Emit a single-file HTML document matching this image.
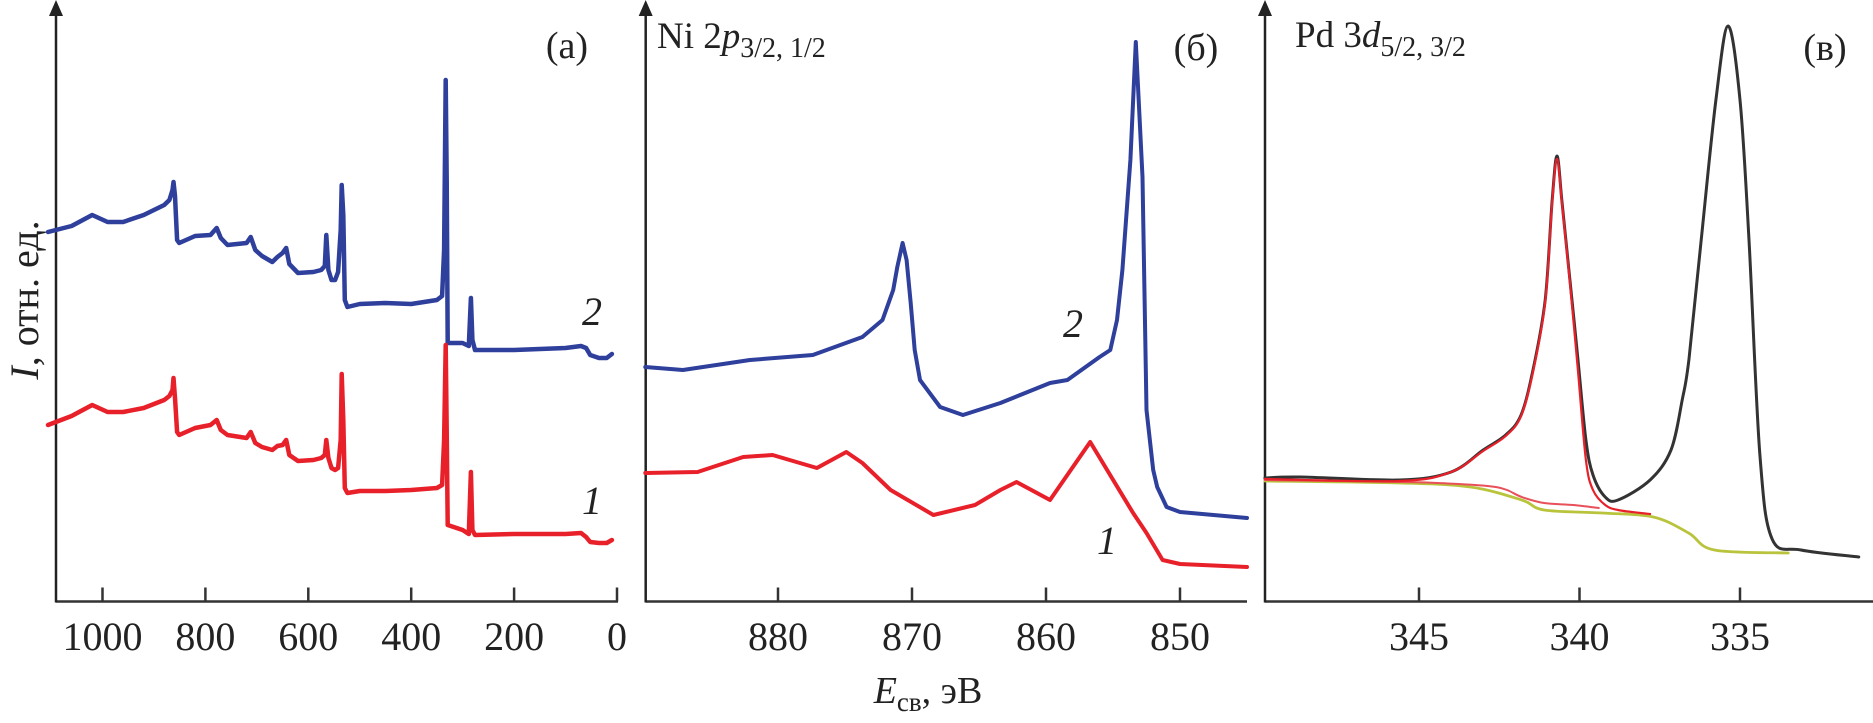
<!DOCTYPE html>
<html><head><meta charset="utf-8">
<style>
html,body{margin:0;padding:0;background:#fff;}
svg{display:block;font-family:"Liberation Serif",serif;}
</style></head>
<body>
<svg id="chart" width="1873" height="723" viewBox="0 0 1873 723" xmlns="http://www.w3.org/2000/svg">
<g id="axes"></g>
<g id="series"></g>
<g id="labels">
  <text transform="translate(38,300) rotate(-90)" text-anchor="middle" font-size="40" fill="#222"><tspan font-style="italic">I</tspan>, отн. ед.</text>
  <text x="928" y="703" text-anchor="middle" font-size="38" fill="#222"><tspan font-style="italic">E</tspan><tspan font-size="27" dy="8">св</tspan><tspan dy="-8">, эВ</tspan></text>
  <text x="567" y="58" text-anchor="middle" font-size="38" fill="#222">(a)</text>
  <text x="1196" y="60" text-anchor="middle" font-size="38" fill="#222">(б)</text>
  <text x="1825" y="60" text-anchor="middle" font-size="38" fill="#222">(в)</text>
  <text x="657" y="48" font-size="37" fill="#222">Ni 2<tspan font-style="italic">p</tspan><tspan font-size="28" dy="9">3/2, 1/2</tspan></text>
  <text x="1295" y="47" font-size="37" fill="#222">Pd 3<tspan font-style="italic">d</tspan><tspan font-size="28" dy="9">5/2, 3/2</tspan></text>
  <text x="592" y="325" text-anchor="middle" font-size="40" font-style="italic" fill="#222">2</text>
  <text x="592" y="514" text-anchor="middle" font-size="40" font-style="italic" fill="#222">1</text>
  <text x="1073" y="337" text-anchor="middle" font-size="40" font-style="italic" fill="#222">2</text>
  <text x="1107" y="554" text-anchor="middle" font-size="40" font-style="italic" fill="#222">1</text>
</g>
</svg>
<script>
// Panel (a) survey spectra
const aEnergy = [1106,1060,1020,990,960,920,880,870,864,862,859,855,851,820,790,778,770,757,720,712,703,690,670,660,650,643,637,620,590,575,568,565,561,555,548,542,537,535,532,529,524,500,450,400,350,340,336,333,331,329,300,288,284,281,276,200,100,70,60,52,35,20,10];
const aBlue = [368,374,385,378,378,385,395,400,410,418,404,360,357,364,365,372,362,355,357,363,350,344,338,343,347,352,336,327,328,330,334,365,330,320,320,328,370,415,385,300,293,296,297,296,300,304,350,520,420,257,257,254,302,260,250,250,252,254,252,245,242,242,246];
const aRed = [175,184,195,188,188,192,200,204,210,222,202,168,165,172,175,180,170,165,162,168,157,153,150,154,155,160,145,139,140,142,145,160,142,132,130,132,160,226,180,112,107,109,109,110,112,115,160,255,170,75,70,66,128,70,65,66,66,67,63,58,57,57,60];
const aTicks = [1000,800,600,400,200,0];
// Panel (б) Ni 2p
const bBlueE = [889.9,887.1,882.1,877.4,873.7,872.2,871.4,871.1,870.7,870.4,870.1,869.8,869.4,867.9,866.2,863.4,859.7,858.4,856.0,855.2,854.7,854.3,853.7,853.3,852.8,852.5,852.0,851.7,851.0,850.0,845.0];
const bBlue = [233,230,240,245,263,280,310,333,357,340,297,250,220,193,185,197,217,220,243,250,280,330,440,558,423,190,130,113,93,88,82];
const bRedE = [889.9,886.0,882.6,880.4,877.1,874.9,873.7,871.6,868.4,865.3,863.4,862.2,859.7,856.7,853.5,852.5,851.3,850.0,845.0];
const bRed = [127,128,143,145,132,148,137,110,85,95,110,118,100,158,87,67,40,36,33];
const bTicks = [880,870,860,850];
// Panel (в) Pd 3d
const cBlackE = [349.8,348.7,345.6,344.0,343.0,342.3,341.82,341.45,341.07,340.85,340.7,340.55,340.33,340.05,339.8,339.58,339.2,338.8,337.8,337.15,336.8,336.59,336.21,335.75,335.37,335.0,334.72,334.38,334.0,333.1,331.3];
const cBlack = [122,123,120,128,150,165,185,230,300,400,444,400,330,241,160,125,103,100,120,150,200,241,360,500,574,500,360,145,61,50,43];
const cFitE = [349.8,345.6,344.0,343.0,342.3,341.82,341.45,341.07,340.85,340.7,340.55,340.33,340.05,339.8,339.58,339.2,338.8,338.1,337.8];
const cFit = [121,119,128,149,164,184,228,298,398,441,398,328,230,140,110,95,90,87,86];
const cBgRedE = [349.8,345.6,344.4,342.6,341.8,341.1,340.2,339.4];
const cBgRed = [120,118,117,113,103,97,95,92];
const cBgE = [349.8,345.6,343.4,341.8,341.1,339.3,337.7,336.6,335.8,333.5];
const cBg = [119,117,113,100,90,87,83,67,50,47];
const cTicks = [345,340,335];

const NS = "http://www.w3.org/2000/svg";
const axisY = 601.5;
function yScale(i){ return 600 - i; }
const panels = [
  {name:'a', x0:56, x1:618, ppu:-0.5145, vref:0, xref:617, ticks:aTicks},
  {name:'b', x0:645.7, x1:1247, ppu:-13.4, vref:880, xref:778, ticks:bTicks},
  {name:'c', x0:1265, x1:1873, ppu:-32.1, vref:345, xref:1419, ticks:cTicks}
];
function xScale(p, v){ return p.xref + (v - p.vref) * p.ppu; }
const axes = document.getElementById('axes');
const series = document.getElementById('series');
function mk(tag, attrs, parent){
  const e = document.createElementNS(NS, tag);
  for (const k in attrs) e.setAttribute(k, attrs[k]);
  parent.appendChild(e);
  return e;
}
panels.forEach(p => {
  const ax = mk('line', {x1:p.x0, y1:axisY, x2:p.x1, y2:axisY, stroke:'#333', 'stroke-width':2.5}, axes);
  
  
  const ay = mk('line', {x1:p.x0, y1:axisY+1, x2:p.x0, y2:12, stroke:'#222', 'stroke-width':2.5}, axes);
  
  
  const ar = mk('polygon', {points:`${p.x0-7},16 ${p.x0+7},16 ${p.x0},0`, fill:'#222'}, axes);
  
  
  p.ticks.forEach(t => {
    const x = xScale(p, t);
    const tk = mk('line', {x1:x, y1:axisY, x2:x, y2:axisY-14, stroke:'#333', 'stroke-width':2.5}, axes);
    
    
    const tl = mk('text', {x:x, y:650, 'text-anchor':'middle', 'font-size':40, fill:'#222'}, axes);
    tl.textContent = String(t);
    
    
  });
});
function line(p, xs, ys, color, w, name){
  const pts = xs.map((v,i) => xScale(p, v).toFixed(1) + ',' + yScale(ys[i]).toFixed(1)).join(' ');
  const el = mk('polyline', {points:pts, fill:'none', stroke:color, 'stroke-width':w, 'stroke-linejoin':'round', 'stroke-linecap':'round'}, series);
  
  
}
function smooth(p, xs, ys, color, w, name){
  const P = xs.map((v,i) => [xScale(p, v), yScale(ys[i])]);
  let d = 'M' + P[0][0].toFixed(1) + ',' + P[0][1].toFixed(1);
  for (let i = 0; i < P.length - 1; i++){
    const p0 = P[Math.max(0,i-1)], p1 = P[i], p2 = P[i+1], p3 = P[Math.min(P.length-1,i+2)];
    const c1 = [p1[0] + (p2[0]-p0[0])/6, p1[1] + (p2[1]-p0[1])/6];
    const c2 = [p2[0] - (p3[0]-p1[0])/6, p2[1] - (p3[1]-p1[1])/6];
    d += ' C' + c1[0].toFixed(1) + ',' + c1[1].toFixed(1) + ' ' + c2[0].toFixed(1) + ',' + c2[1].toFixed(1) + ' ' + p2[0].toFixed(1) + ',' + p2[1].toFixed(1);
  }
  const el = mk('path', {d:d, fill:'none', stroke:color, 'stroke-width':w, 'stroke-linejoin':'round', 'stroke-linecap':'round'}, series);
  
  
}
line(panels[0], aEnergy, aBlue, '#2e3f9c', 4.5, 'survey-curve-2');
line(panels[0], aEnergy, aRed, '#e8202a', 4.5, 'survey-curve-1');
line(panels[1], bBlueE, bBlue, '#2e3f9c', 4, 'ni-curve-2');
line(panels[1], bRedE, bRed, '#e8202a', 4, 'ni-curve-1');
smooth(panels[2], cBgE, cBg, '#b9c43c', 2.8, 'pd-background');
smooth(panels[2], cBgRedE, cBgRed, '#e8505a', 2, 'pd-background-red');
smooth(panels[2], cBlackE, cBlack, '#333', 3, 'pd-experimental');
smooth(panels[2], cFitE, cFit, '#e8202a', 2.2, 'pd-fit-peak');
</script>
</body></html>
